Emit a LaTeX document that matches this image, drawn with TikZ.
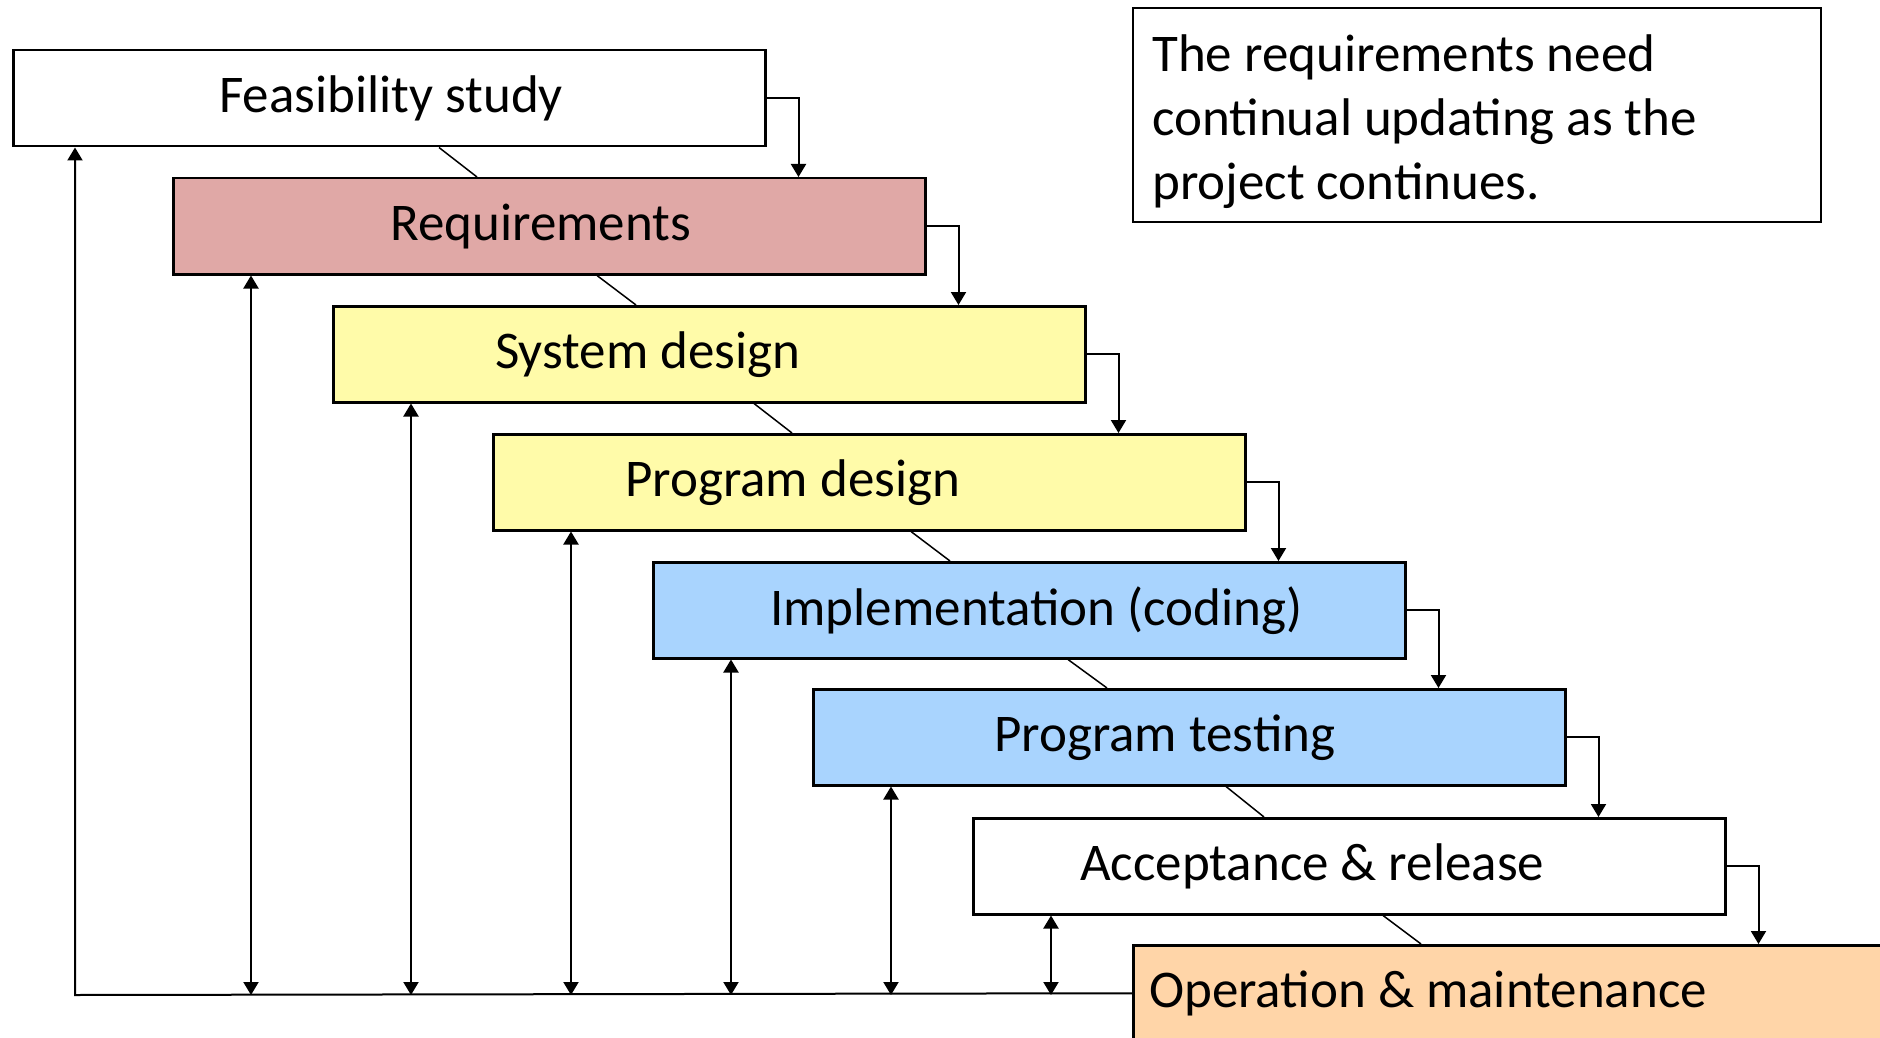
\documentclass[tikz,border=0pt]{standalone}
\usepackage{fontspec}
\setmainfont{Carlito}
\usepackage{tikz}
\usetikzlibrary{arrows.meta,positioning}

\definecolor{reqpink}{RGB}{224,168,166}
\definecolor{designyellow}{RGB}{255,251,169}
\definecolor{codeblue}{RGB}{169,212,254}
\definecolor{opspeach}{RGB}{255,213,168}

\tikzset{
  phase/.style={draw, line width=2.5pt, anchor=north west, minimum width=752pt, minimum height=96pt, inner sep=0pt},
  phasetext/.style={inner sep=0pt, font=\fontsize{53}{64}\selectfont},
  flow/.style={line width=2pt, -{Triangle[length=13pt,width=15pt]}},
  twoway/.style={line width=2pt, {Triangle[length=13pt,width=15pt]}-{Triangle[length=13pt,width=15pt]}},
  slope/.style={line width=1.5pt}
}

\begin{document}
\begin{tikzpicture}[x=1pt,y=-1pt]
        \useasboundingbox (0,0) rectangle (1880,1038);
        \node[phase] (feas) at (12,49) {};
        \node[phase, fill=reqpink] (req) at (172,177) {};
        \node[phase, fill=designyellow] (sys) at (332,305) {};
        \node[phase, fill=designyellow] (pdes) at (492,433) {};
        \node[phase, fill=codeblue] (impl) at (652,561) {};
        \node[phase, fill=codeblue] (test) at (812,688) {};
        \node[phase] (acc) at (972,817) {};
        \node[phase, fill=opspeach] (oper) at (1132,944) {};
        \node[phasetext, right=207pt of feas.west] (feastext) {Feasibility study};
        \node[phasetext, right=218pt of req.west] (reqtext) {Requirements};
        \node[phasetext, right=163pt of sys.west] (systext) {System design};
        \node[phasetext, right=133pt of pdes.west] (pdestext) {Program design};
        \node[phasetext, right=118pt of impl.west] (impltext) {Implementation (coding)};
        \node[phasetext, right=182pt of test.west] (testtext) {Program testing};
        \node[phasetext, right=108pt of acc.west] (acctext) {Acceptance \& release};
        \node[phasetext, right=17pt of oper.west] (opertext) {Operation \& maintenance};
        \node[draw, line width=2pt, anchor=north west, minimum width=688pt, minimum height=214pt] (note) at (1132,7) {};
        \node[phasetext, align=left, anchor=west] (notetext) at ([xshift=20pt,yshift=-7pt]note.west)
              {The requirements need\\continual updating as the\\project continues.};
        \draw[flow] (feas.east) -- ++(32,0) coordinate (k1) -- (k1 |- req.north);
        \draw[flow] (req.east) -- ++(32,0) coordinate (k2) -- (k2 |- sys.north);
        \draw[flow] (sys.east) -- ++(32,0) coordinate (k3) -- (k3 |- pdes.north);
        \draw[flow] (pdes.east) -- ++(32,0) coordinate (k4) -- (k4 |- impl.north);
        \draw[flow] (impl.east) -- ++(32,0) coordinate (k5) -- (k5 |- test.north);
        \draw[flow] (test.east) -- ++(32,0) coordinate (k6) -- (k6 |- acc.north);
        \draw[flow] (acc.east) -- ++(32,0) coordinate (k7) -- (k7 |- oper.north);
        \draw[slope] ([xshift=427pt]feas.south west) -- ([xshift=305pt]req.north west);
        \draw[slope] ([xshift=425pt]req.south west) -- ([xshift=304pt]sys.north west);
        \draw[slope] ([xshift=422pt]sys.south west) -- ([xshift=300pt]pdes.north west);
        \draw[slope] ([xshift=419pt]pdes.south west) -- ([xshift=298pt]impl.north west);
        \draw[slope] ([xshift=416pt]impl.south west) -- ([xshift=295pt]test.north west);
        \draw[slope] ([xshift=414pt]test.south west) -- ([xshift=292pt]acc.north west);
        \draw[slope] ([xshift=411pt]acc.south west) -- ([xshift=289pt]oper.north west);
        \coordinate (base) at (75,995);
        \draw[flow] (oper.west) -- (base) -- (base |- feas.south);
        \draw[twoway] ([xshift=79pt]req.south west) -- ([xshift=79pt]req.south west |- base);
        \draw[twoway] ([xshift=79pt]sys.south west) -- ([xshift=79pt]sys.south west |- base);
        \draw[twoway] ([xshift=79pt]pdes.south west) -- ([xshift=79pt]pdes.south west |- base);
        \draw[twoway] ([xshift=79pt]impl.south west) -- ([xshift=79pt]impl.south west |- base);
        \draw[twoway] ([xshift=79pt]test.south west) -- ([xshift=79pt]test.south west |- base);
        \draw[twoway] ([xshift=79pt]acc.south west) -- ([xshift=79pt]acc.south west |- base);
\end{tikzpicture}
\end{document}
